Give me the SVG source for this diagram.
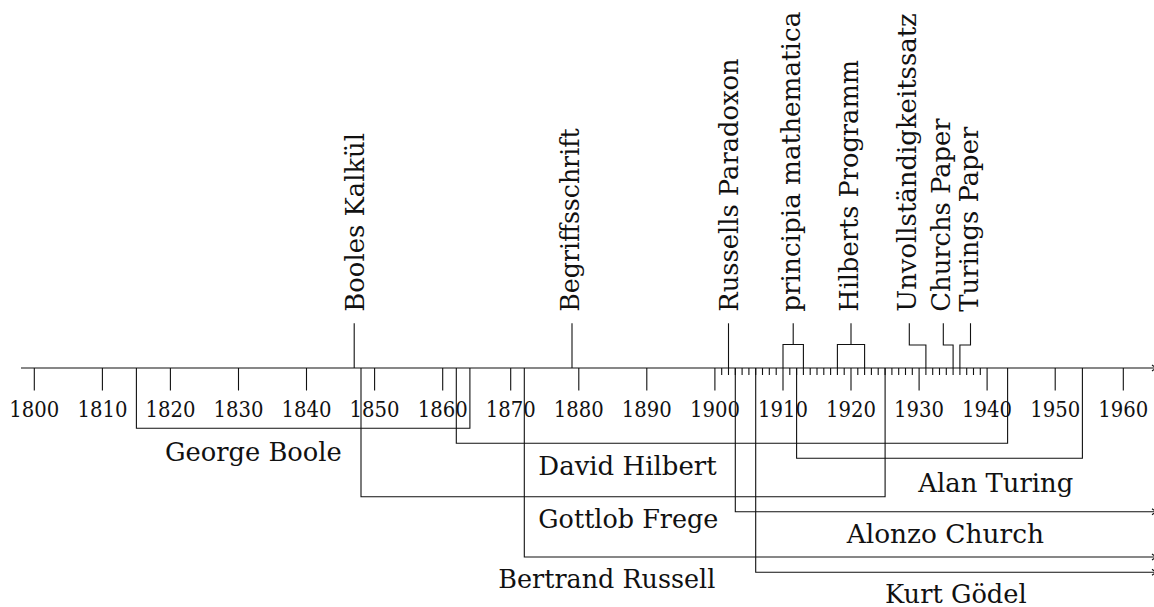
<svg xmlns="http://www.w3.org/2000/svg" width="1154" height="607" viewBox="0 0 1154 607">
<style>
.ln{fill:none;stroke:#111;stroke-width:1.1}
.yr{font-family:"DejaVu Serif",serif;font-size:22px;fill:#111;text-anchor:middle}
.nm{font-family:"DejaVu Serif",serif;font-size:26.5px;fill:#111}
.ev{font-family:"DejaVu Serif",serif;font-size:26.5px;fill:#111}
</style>
<rect width="1154" height="607" fill="#fff"/>
<g id="axis">
<path class="ln" d="M21 368H1154M1152 365L1154 366.5M1152 371L1154 369.5"/>
<path class="ln" d="M34.3 368v22.5M102.4 368v22.5M170.4 368v22.5M238.5 368v22.5M306.5 368v22.5M374.6 368v22.5M442.7 368v22.5M510.7 368v22.5M578.8 368v22.5M646.8 368v22.5M714.9 368v22.5M783 368v22.5M851 368v22.5M919.1 368v22.5M987.1 368v22.5M1055.2 368v22.5M1123.3 368v22.5"/>
<path class="ln" d="M721.7 368v7M728.5 368v7M735.3 368v7M742.1 368v7M748.9 368v7M755.7 368v7M762.5 368v7M769.3 368v7M776.2 368v7M789.8 368v7M796.6 368v7M803.4 368v7M810.2 368v7M817 368v7M823.8 368v7M830.6 368v7M837.4 368v7M844.2 368v7M857.8 368v7M864.6 368v7M871.4 368v7M878.2 368v7M885.1 368v7M891.9 368v7M898.7 368v7M905.5 368v7M912.3 368v7M925.9 368v7M932.7 368v7M939.5 368v7M946.3 368v7M953.1 368v7M959.9 368v7M966.7 368v7M973.5 368v7M980.3 368v7"/>
<g class="yr">
<text x="34.3" y="416.7" textLength="50" lengthAdjust="spacingAndGlyphs">1800</text><text x="102.4" y="416.7" textLength="50" lengthAdjust="spacingAndGlyphs">1810</text><text x="170.4" y="416.7" textLength="50" lengthAdjust="spacingAndGlyphs">1820</text><text x="238.5" y="416.7" textLength="50" lengthAdjust="spacingAndGlyphs">1830</text><text x="306.5" y="416.7" textLength="50" lengthAdjust="spacingAndGlyphs">1840</text><text x="374.6" y="416.7" textLength="50" lengthAdjust="spacingAndGlyphs">1850</text><text x="442.7" y="416.7" textLength="50" lengthAdjust="spacingAndGlyphs">1860</text><text x="510.7" y="416.7" textLength="50" lengthAdjust="spacingAndGlyphs">1870</text><text x="578.8" y="416.7" textLength="50" lengthAdjust="spacingAndGlyphs">1880</text><text x="646.8" y="416.7" textLength="50" lengthAdjust="spacingAndGlyphs">1890</text><text x="714.9" y="416.7" textLength="50" lengthAdjust="spacingAndGlyphs">1900</text><text x="783" y="416.7" textLength="50" lengthAdjust="spacingAndGlyphs">1910</text><text x="851" y="416.7" textLength="50" lengthAdjust="spacingAndGlyphs">1920</text><text x="919.1" y="416.7" textLength="50" lengthAdjust="spacingAndGlyphs">1930</text><text x="987.1" y="416.7" textLength="50" lengthAdjust="spacingAndGlyphs">1940</text><text x="1055.2" y="416.7" textLength="50" lengthAdjust="spacingAndGlyphs">1950</text><text x="1123.3" y="416.7" textLength="50" lengthAdjust="spacingAndGlyphs">1960</text>
</g>
</g>
<g id="connectors">
<path class="ln" d="M354.2 323.3V368"/>
<path class="ln" d="M572 323.3V368"/>
<path class="ln" d="M728.5 323.3V368"/>
<path class="ln" d="M793.2 323.3V344.5M783 368V344.5H803.4V368"/>
<path class="ln" d="M851 323.3V344.5M837.4 368V344.5H864.6V368"/>
<path class="ln" d="M909.3 323.3V345H925.9V368"/>
<path class="ln" d="M943.3 323.3V345H953.1V368"/>
<path class="ln" d="M970.5 323.3V345H959.9V368"/>
<path class="ln" d="M136.4 368V428.3H469.9V368"/>
<path class="ln" d="M456.3 368V443.3H1007.6V368"/>
<path class="ln" d="M796.6 368V458.3H1082.4V368"/>
<path class="ln" d="M361 368V496.7H885.1V368"/>
<path class="ln" d="M735.3 368V511.7H1154M1152 508.7L1154 510.2M1152 514.7L1154 513.2"/>
<path class="ln" d="M524.3 368V557H1154M1152 554L1154 555.5M1152 560L1154 558.5"/>
<path class="ln" d="M755.7 368V572.3H1154M1152 569.3L1154 570.8M1152 575.3L1154 573.8"/>
</g>
<g id="ev-boole"><text class="ev" transform="translate(364.3 311.7) rotate(-90)" textLength="178.7" lengthAdjust="spacingAndGlyphs">Booles Kalkül</text></g>
<g id="ev-begriff"><text class="ev" transform="translate(579 311.7) rotate(-90)" textLength="183.4" lengthAdjust="spacingAndGlyphs">Begriffsschrift</text></g>
<g id="ev-paradox"><text class="ev" transform="translate(738.3 311.7) rotate(-90)" textLength="253.4" lengthAdjust="spacingAndGlyphs">Russells Paradoxon</text></g>
<g id="ev-principia"><text class="ev" transform="translate(800.3 311.7) rotate(-90)" textLength="300" lengthAdjust="spacingAndGlyphs">principia mathematica</text></g>
<g id="ev-hilbert"><text class="ev" transform="translate(858 311.7) rotate(-90)" textLength="251.7" lengthAdjust="spacingAndGlyphs">Hilberts Programm</text></g>
<g id="ev-goedel"><text class="ev" transform="translate(916.3 311.7) rotate(-90)" textLength="298.4" lengthAdjust="spacingAndGlyphs">Unvollständigkeitssatz</text></g>
<g id="ev-church"><text class="ev" transform="translate(950.3 311.7) rotate(-90)" textLength="193.4" lengthAdjust="spacingAndGlyphs">Churchs Paper</text></g>
<g id="ev-turing"><text class="ev" transform="translate(977.7 311.7) rotate(-90)" textLength="185" lengthAdjust="spacingAndGlyphs">Turings Paper</text></g>
<g id="p-boole"><text class="nm" x="165" y="460.7" textLength="176.7" lengthAdjust="spacingAndGlyphs">George Boole</text></g>
<g id="p-hilbert"><text class="nm" x="538.3" y="475" textLength="178.4" lengthAdjust="spacingAndGlyphs">David Hilbert</text></g>
<g id="p-turing"><text class="nm" x="918.3" y="491.7" textLength="155" lengthAdjust="spacingAndGlyphs">Alan Turing</text></g>
<g id="p-frege"><text class="nm" x="538.3" y="528.3" textLength="180" lengthAdjust="spacingAndGlyphs">Gottlob Frege</text></g>
<g id="p-church"><text class="nm" x="846.7" y="543.3" textLength="197.3" lengthAdjust="spacingAndGlyphs">Alonzo Church</text></g>
<g id="p-russell"><text class="nm" x="498.3" y="588.3" textLength="217" lengthAdjust="spacingAndGlyphs">Bertrand Russell</text></g>
<g id="p-goedel"><text class="nm" x="885" y="603" textLength="141.7" lengthAdjust="spacingAndGlyphs">Kurt Gödel</text></g>
</svg>
